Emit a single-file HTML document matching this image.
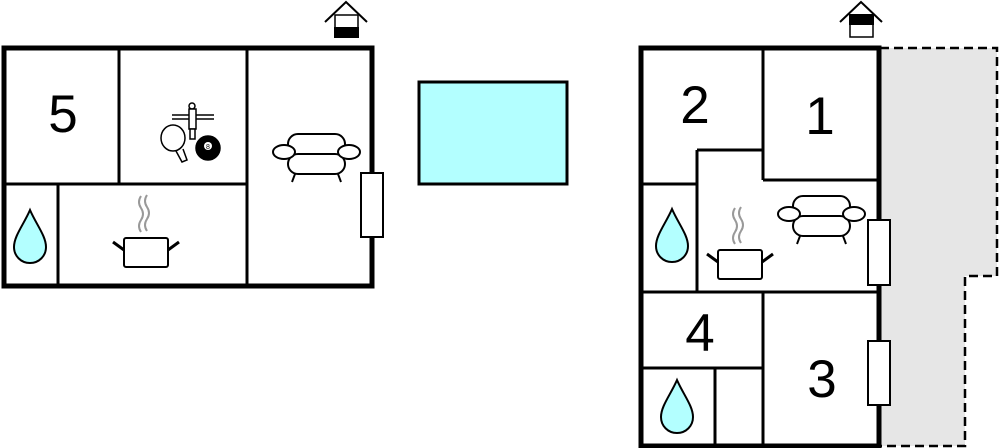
<!DOCTYPE html>
<html><head><meta charset="utf-8"><style>
html,body{margin:0;padding:0;background:#fff;}
svg{display:block;}
text{font-family:"Liberation Sans",sans-serif;font-size:53px;fill:#000;text-anchor:middle;}
</style></head><body>
<svg width="1000" height="448" viewBox="0 0 1000 448">
<defs>
<g id="sofa" fill="#fff" stroke="#000" stroke-width="2">
<line x1="22" y1="40" x2="19" y2="48"/><line x1="65" y1="40" x2="68" y2="48"/>
<rect x="15" y="0" width="57" height="24" rx="10"/>
<rect x="15" y="20" width="57" height="20" rx="10"/>
<ellipse cx="11" cy="18" rx="11" ry="7"/>
<ellipse cx="76" cy="18" rx="11" ry="7"/>
</g>
<g id="pot" fill="none">
<path d="M28 0 q-4 6 0 12 q4 6 0 12 q-4 6 0 12 M34 -1 q-4 6 0 12 q4 6 0 12 q-4 6 0 12" stroke="#999" stroke-width="2"/>
<rect x="11" y="42" width="44" height="29" rx="2" fill="#fff" stroke="#000" stroke-width="2"/>
<line x1="0" y1="46" x2="11" y2="54" stroke="#000" stroke-width="3"/>
<line x1="55" y1="54" x2="66" y2="46" stroke="#000" stroke-width="3"/>
</g>
<path id="drop" d="M16 0 C10 14 0 26 0 37 C0 46 7 53 16 53 C25 53 32 46 32 37 C32 26 22 14 16 0 Z" fill="#b3ffff" stroke="#000" stroke-width="2"/>
</defs>

<path d="M325 22 L346 2 L367 22" fill="none" stroke="#000" stroke-width="2"/>
<rect x="335" y="15" width="23" height="22" fill="#fff" stroke="#000" stroke-width="1.5"/>
<rect x="334" y="27" width="25" height="11" fill="#000"/>

<path d="M840 22 L861 2 L882 22" fill="none" stroke="#000" stroke-width="2"/>
<rect x="850" y="15" width="23" height="22" fill="#fff" stroke="#000" stroke-width="1.5"/>
<rect x="849" y="14" width="25" height="11" fill="#000"/>

<g stroke="#000" fill="none">
<line x1="119" y1="48" x2="119" y2="184" stroke-width="3"/>
<line x1="4" y1="184" x2="247" y2="184" stroke-width="3"/>
<line x1="247" y1="48" x2="247" y2="286" stroke-width="3"/>
<line x1="58" y1="184" x2="58" y2="286" stroke-width="3"/>
<rect x="4" y="48" width="368" height="238" stroke-width="5"/>
</g>
<rect x="361" y="173" width="22" height="64" fill="#fff" stroke="#000" stroke-width="2"/>
<text x="63" y="132">5</text>
<use href="#sofa" x="273" y="134"/>
<use href="#drop" x="14" y="210"/>
<use href="#pot" x="113" y="196"/>
<g stroke="#000" fill="#fff" stroke-width="1.5">
<line x1="172" y1="115" x2="214" y2="115"/><line x1="172" y1="119" x2="214" y2="119"/>
<circle cx="192" cy="106" r="3"/>
<rect x="189" y="109" width="7" height="20"/>
<rect x="190" y="129" width="5" height="10"/>
<path d="M176 151 L182 162 L187 160 L183 149"/>
<ellipse cx="173" cy="138" rx="12" ry="13"/>
<circle cx="208" cy="148" r="12" fill="#000"/>
<circle cx="208" cy="146" r="4" fill="#fff" stroke="none"/>
</g>
<text x="208" y="149" style="font-size:7px">8</text>

<rect x="419" y="82" width="148" height="102" fill="#b3ffff" stroke="#000" stroke-width="3"/>

<path d="M880 48 L997 48 L997 276 L965 276 L965 446 L880 446 Z" fill="#e6e6e6"/>
<path d="M880 48 L997 48 L997 276 L965 276 L965 446 L880 446" fill="none" stroke="#000" stroke-width="2.5" stroke-dasharray="9,5"/>

<g stroke="#000" fill="none" stroke-width="3">
<line x1="763" y1="48" x2="763" y2="180"/>
<line x1="763" y1="180" x2="879" y2="180"/>
<line x1="697" y1="150" x2="763" y2="150"/>
<line x1="697" y1="150" x2="697" y2="292"/>
<line x1="641" y1="184" x2="697" y2="184"/>
<line x1="641" y1="292" x2="879" y2="292"/>
<line x1="763" y1="292" x2="763" y2="446"/>
<line x1="641" y1="368" x2="763" y2="368"/>
<line x1="715" y1="368" x2="715" y2="446"/>
<rect x="641" y="48" width="238" height="398" stroke-width="5"/>
</g>
<rect x="868" y="220" width="22" height="65" fill="#fff" stroke="#000" stroke-width="2"/>
<rect x="868" y="341" width="22" height="64" fill="#fff" stroke="#000" stroke-width="2"/>
<text x="695" y="123">2</text>
<text x="820" y="134">1</text>
<text x="700" y="351">4</text>
<text x="822" y="397">3</text>
<use href="#sofa" x="778" y="196"/>
<use href="#pot" x="707" y="208"/>
<use href="#drop" x="656" y="209"/>
<use href="#drop" x="661" y="380"/>
</svg>
</body></html>
